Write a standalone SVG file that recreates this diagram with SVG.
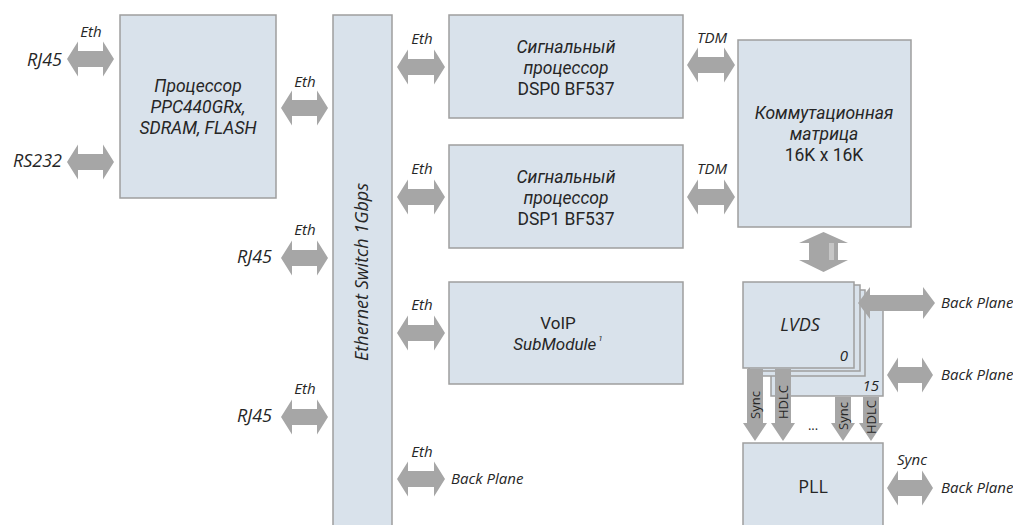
<svg xmlns="http://www.w3.org/2000/svg" width="1013" height="525" viewBox="0 0 1013 525">
<style>
.box{fill:#d9e2eb;stroke:#9e9e9e;stroke-width:1.5}
.arr{fill:#a6a6a6}
text{font-family:"Open Sans","Noto Sans","Liberation Sans",sans-serif;fill:#262626;font-style:italic}
.t{font-size:18px;text-anchor:middle}
.m{font-family:Roboto,"Liberation Sans",sans-serif;font-size:17.5px;text-anchor:middle}
.up{font-style:normal}
.lb{font-size:15px;text-anchor:middle}
.side{font-size:18px;text-anchor:end}
.bp{font-size:15px}
.vl{font-size:13px;text-anchor:middle;font-style:normal}
</style>
<rect width="1013" height="525" fill="#ffffff"/>

<g id="cpu">
<rect class="box" x="120" y="15" width="156" height="183"/>
<text class="m" x="198" y="92">Процессор</text>
<text class="m" x="198" y="113">PPC440GRx,</text>
<text class="m" x="198" y="134">SDRAM, FLASH</text>
</g>

<g id="switch">
<rect class="box" x="333" y="15" width="59" height="520"/>
<text class="t" transform="translate(368,272) rotate(-90)">Ethernet Switch 1Gbps</text>
</g>

<g id="dsp0">
<rect class="box" x="449" y="15" width="234" height="103"/>
<text class="m" x="566" y="53">Сигнальный</text>
<text class="m" x="566" y="74">процессор</text>
<text class="m up" x="566" y="95">DSP0 BF537</text>
</g>

<g id="dsp1">
<rect class="box" x="449" y="145" width="234" height="103"/>
<text class="m" x="566" y="183">Сигнальный</text>
<text class="m" x="566" y="204">процессор</text>
<text class="m up" x="566" y="225">DSP1 BF537</text>
</g>

<g id="voip">
<rect class="box" x="449" y="282" width="234" height="102"/>
<text class="m up" x="558" y="329" style="font-size:17px">VoIP</text>
<text class="m" x="558" y="350" style="font-size:17px">SubModule<tspan dy="-9" style="font-size:8px"> 1</tspan></text>
</g>

<g id="matrix">
<rect class="box" x="738" y="40" width="173" height="187"/>
<text class="m" x="824" y="119">Коммутационная</text>
<text class="m" x="824" y="140">матрица</text>
<text class="m up" x="824" y="161">16K x 16K</text>
</g>

<g id="lvds">
<rect class="box" x="771" y="310" width="112" height="86"/>
<rect class="box" x="753" y="290" width="112" height="86"/>
<rect class="box" x="749" y="285" width="111" height="86"/>
<rect class="box" x="743" y="282" width="111" height="86"/>
<text class="t" x="800" y="331">LVDS</text>
<text class="lb" x="848" y="361" style="text-anchor:end">0</text>
<text class="lb" x="879" y="391" style="text-anchor:end">15</text>
</g>

<g id="pll">
<rect class="box" x="743" y="443" width="140" height="95"/>
<text class="t up" x="813" y="493">PLL</text>
</g>

<g id="connectors">
<path class="arr" d="M67 59 L78 41.5 L78 51 L103 51 L103 41.5 L114 59 L103 76.5 L103 67 L78 67 L78 76.5 Z"/>
<path class="arr" d="M67 162 L78 144.5 L78 154 L103 154 L103 144.5 L114 162 L103 179.5 L103 170 L78 170 L78 179.5 Z"/>
<path class="arr" d="M281 108 L292 90.5 L292 100 L317 100 L317 90.5 L328 108 L317 125.5 L317 116 L292 116 L292 125.5 Z"/>
<path class="arr" d="M397 67 L408 49.5 L408 59 L434 59 L434 49.5 L445 67 L434 84.5 L434 75 L408 75 L408 84.5 Z"/>
<path class="arr" d="M397 197 L408 179.5 L408 189 L434 189 L434 179.5 L445 197 L434 214.5 L434 205 L408 205 L408 214.5 Z"/>
<path class="arr" d="M687 65 L698 47.5 L698 57 L724 57 L724 47.5 L735 65 L724 82.5 L724 73 L698 73 L698 82.5 Z"/>
<path class="arr" d="M687 197 L698 179.5 L698 189 L724 189 L724 179.5 L735 197 L724 214.5 L724 205 L698 205 L698 214.5 Z"/>
<path class="arr" d="M281 258 L292 240.5 L292 250 L317 250 L317 240.5 L328 258 L317 275.5 L317 266 L292 266 L292 275.5 Z"/>
<path class="arr" d="M281 417 L292 399.5 L292 409 L317 409 L317 399.5 L328 417 L317 434.5 L317 425 L292 425 L292 434.5 Z"/>
<path class="arr" d="M397 333 L408 315.5 L408 325 L434 325 L434 315.5 L445 333 L434 350.5 L434 341 L408 341 L408 350.5 Z"/>
<path class="arr" d="M397 479 L408 461.5 L408 471 L434 471 L434 461.5 L445 479 L434 496.5 L434 487 L408 487 L408 496.5 Z"/>
<path class="arr" d="M858 303 L870 287 L870 295 L923 295 L923 287 L935 303 L923 319 L923 311 L870 311 L870 319 Z"/>
<path class="arr" d="M887 375 L898 357.5 L898 367 L922 367 L922 357.5 L933 375 L922 392.5 L922 383 L898 383 L898 392.5 Z"/>
<path class="arr" d="M887 488 L898 470.5 L898 480 L922 480 L922 470.5 L933 488 L922 505.5 L922 496 L898 496 L898 505.5 Z"/>
<path class="arr" d="M823.5 232 L848 243 L838 243 L838 260 L848 260 L823.5 272 L799 260 L809 260 L809 243 L799 243 Z"/>
<rect x="829" y="243" width="5" height="17" fill="#c6c6c6"/>
<path class="arr" d="M747 369 L763 369 L763 423 L767 423 L755 441 L743 423 L747 423 Z"/>
<path class="arr" d="M775 369 L791 369 L791 423 L795 423 L783 441 L771 423 L775 423 Z"/>
<path class="arr" d="M835 397 L851 397 L851 423 L855 423 L843 441 L831 423 L835 423 Z"/>
<path class="arr" d="M863 397 L879 397 L879 423 L883 423 L871 441 L859 423 L863 423 Z"/>
<text class="lb" x="91" y="37">Eth</text>
<text class="lb" x="305" y="87">Eth</text>
<text class="lb" x="422" y="44">Eth</text>
<text class="lb" x="422" y="174">Eth</text>
<text class="lb" x="305" y="235">Eth</text>
<text class="lb" x="305" y="394">Eth</text>
<text class="lb" x="422" y="310">Eth</text>
<text class="lb" x="422" y="457">Eth</text>
<text class="lb" x="712" y="43">TDM</text>
<text class="lb" x="712" y="174">TDM</text>
<text class="lb" x="912" y="465">Sync</text>
<text class="side" x="62" y="66">RJ45</text>
<text class="side" x="62" y="167">RS232</text>
<text class="side" x="272" y="263">RJ45</text>
<text class="side" x="272" y="422">RJ45</text>
<text class="bp" x="451" y="484">Back Plane</text>
<text class="bp" x="941" y="308">Back Plane</text>
<text class="bp" x="941" y="380">Back Plane</text>
<text class="bp" x="941" y="493">Back Plane</text>
<text class="vl" transform="translate(759.5,405) rotate(-90)">Sync</text>
<text class="vl" transform="translate(787.5,402) rotate(-90)">HDLC</text>
<text class="vl" transform="translate(847.5,416) rotate(-90)">Sync</text>
<text class="vl" transform="translate(875.5,417) rotate(-90)">HDLC</text>
<text class="vl" x="813" y="430">...</text>
</g>
</svg>
